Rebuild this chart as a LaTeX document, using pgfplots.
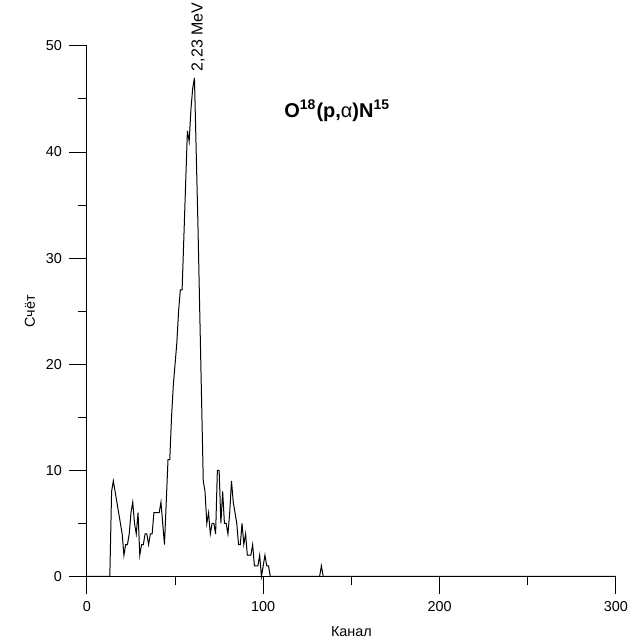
\documentclass[border=0pt]{standalone}
\usepackage{fontspec}
\setmainfont{Liberation Sans}
\usepackage{pgfplots}
\pgfplotsset{compat=1.18}
\begin{document}
\begin{tikzpicture}
\begin{axis}[
  at={(0,0)}, anchor=south west,
  width=264.75pt, height=265.5pt, scale only axis,
  xmin=0, xmax=300, ymin=0, ymax=50,
  axis lines=left, axis line style={-, line width=0.5pt},
  xtick={0,100,200,300}, ytick={0,10,20,30,40,50},
  minor x tick num=1, minor y tick num=1,
  tick align=outside, major tick length=9pt, minor tick length=4.5pt,
  every tick/.style={black, line width=0.5pt},
  every minor tick/.style={black, line width=0.5pt},
  ticklabel style={font=\fontsize{7.2}{8}\selectfont},
  /pgf/number format/assume math mode=true,
  xlabel={Канал}, ylabel={Счёт},
  label style={font=\fontsize{7.2}{8}\selectfont},
  xlabel style={at={(axis description cs:0.5,-0.1036)}, anchor=center},
  ylabel style={at={(axis description cs:-0.1076,0.5)}, anchor=center},
  clip=false,
]
\addplot[black, line width=0.5pt] coordinates {
(0,0) (13,0) (14,8) (15,9) (16,8) (17,7) (18,6) (19,5) (20,4) (21,2)
(22,3) (23,3) (24,4) (25,6) (26,7) (27,5) (28,4) (29,6) (30,2) (31,3)
(32,3) (33,4) (34,4) (35,3) (36,4) (37,4) (38,6) (39,6) (40,6) (41,6)
(42,7) (43,5) (44,3) (45,7) (46,11) (47,11) (48,15) (49,18) (50,20) (51,22)
(52,25) (53,27) (54,27) (55,32) (56,37) (57,42) (58,41) (59,44) (60,46) (61,47)
(62,40) (63,33) (64,25) (65,17) (66,9) (67,8) (68,5) (69,6) (70,4) (71,5)
(72,5) (73,4) (74,10) (75,10) (76,5) (77,8) (78,5) (79,5) (80,4) (81,6)
(82,9) (83,7) (84,6) (85,5) (86,3) (87,3) (88,5) (89,3) (90,4) (91,2)
(92,2) (93,2) (94,3) (95,1) (96,1) (97,1) (98,2) (99,0) (100,1) (101,2)
(102,1) (103,1) (104,0) (132,0) (133,1) (134,0) (300,0)
};
\node[rotate=90, anchor=west, inner sep=0pt, font=\fontsize{8}{9}\selectfont] at (axis cs:63,47.6) {2,23 MeV};
\node[anchor=center, inner sep=0pt, font=\bfseries\fontsize{10}{12}\selectfont] at (axis cs:142,43.9) {O\textsuperscript{18}(p,{\mdseries α})N\textsuperscript{15}};
\end{axis}
\path[use as bounding box] (-43.5pt,-33pt) rectangle (278pt,288.5pt);
\end{tikzpicture}
\end{document}
